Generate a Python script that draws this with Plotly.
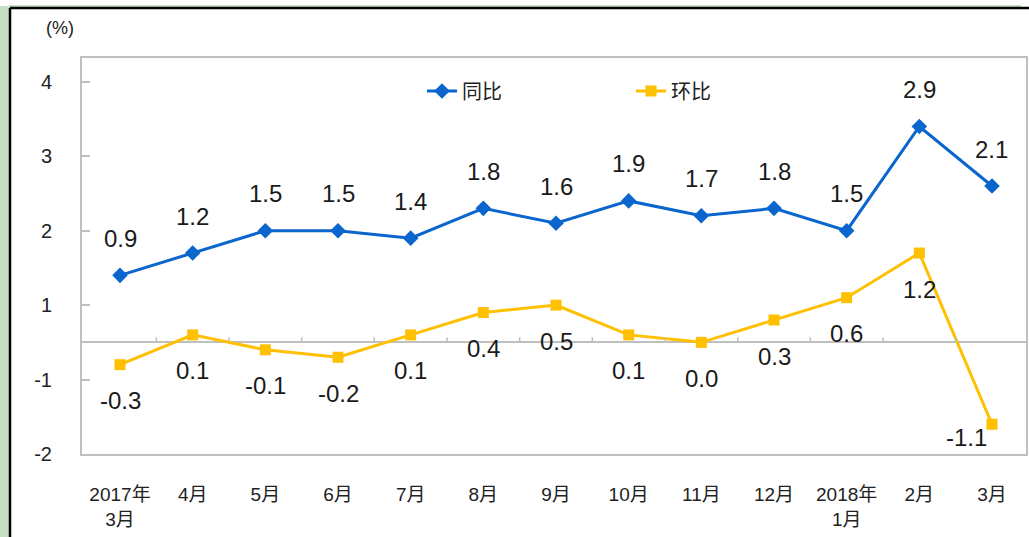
import plotly.graph_objects as go

categories = ["2017年<br>3月", "4月", "5月", "6月", "7月", "8月", "9月", "10月",
              "11月", "12月", "2018年<br>1月", "2月", "3月"]
yoy = [0.9, 1.2, 1.5, 1.5, 1.4, 1.8, 1.6, 1.9, 1.7, 1.8, 1.5, 2.9, 2.1]
mom = [-0.3, 0.1, -0.1, -0.2, 0.1, 0.4, 0.5, 0.1, 0.0, 0.3, 0.6, 1.2, -1.1]
ytick_vals = [3.5, 2.5, 1.5, 0.5, -0.5, -1.5]
ytick_text = ["4", "3", "2", "1", "-1", "-2"]

W, H = 1029, 537
L, T, R, B = 82, 58, 3, 83
pw, ph = W - L - R, H - T - B

BLUE = "#0A66CC"
YELLOW = "#FFC000"
GRID = "#BFBFBF"
FONT = "Liberation Sans, Arial, Noto Sans CJK SC"

xs = list(range(len(categories)))

fig = go.Figure()
fig.add_trace(go.Scatter(x=xs, y=yoy, name="同比", mode="lines+markers",
                         line=dict(color=BLUE, width=3),
                         marker=dict(symbol="diamond", size=12, color=BLUE)))
fig.add_trace(go.Scatter(x=xs, y=mom, name="环比", mode="lines+markers",
                         line=dict(color=YELLOW, width=3),
                         marker=dict(symbol="square", size=11, color=YELLOW)))

ann = []
for i, v in enumerate(yoy):
    ann.append(dict(x=i, y=v, xref="x", yref="y", text=f"{v:.1f}", showarrow=False,
                    yshift=37, font=dict(size=24, color="#1a1a1a", family=FONT)))
for i, v in enumerate(mom):
    xshift = -25 if i == len(mom) - 1 else 0
    yshift = -13 if i == len(mom) - 1 else -36
    ann.append(dict(x=i, y=v, xref="x", yref="y", text=f"{v:.1f}", showarrow=False,
                    yshift=yshift, xshift=xshift,
                    font=dict(size=24, color="#1a1a1a", family=FONT)))


def px_x(p):
    return (p - L) / pw


def px_y(p):
    return (H - B - p) / ph


ann.append(dict(x=px_x(60), y=px_y(28), xref="paper", yref="paper", xanchor="center",
                yanchor="middle", text="(%)", showarrow=False,
                font=dict(size=18, color="#222", family=FONT)))

shapes = []
for i in range(len(categories) - 1):
    shapes.append(dict(type="line", xref="x", yref="y", x0=i + 0.5, x1=i + 0.5,
                       y0=0, y1=0.07, line=dict(color=GRID, width=1.5)))
# outer frame
shapes.append(dict(type="rect", xref="paper", yref="paper", x0=px_x(0), x1=px_x(9),
                   y0=px_y(H), y1=px_y(6), fillcolor="#C5E1C5", line=dict(width=0), layer="below"))
shapes.append(dict(type="rect", xref="paper", yref="paper", x0=px_x(9), x1=px_x(1021),
                   y0=px_y(8), y1=px_y(5), fillcolor="#C5E1C5", line=dict(width=0), layer="below"))
shapes.append(dict(type="line", xref="paper", yref="paper", x0=px_x(10), x1=px_x(10),
                   y0=px_y(H), y1=px_y(8), line=dict(color="black", width=2.5)))
shapes.append(dict(type="line", xref="paper", yref="paper", x0=px_x(10), x1=px_x(W),
                   y0=px_y(8), y1=px_y(8), line=dict(color="black", width=2.5)))

fig.update_layout(
    width=W, height=H,
    margin=dict(l=L, r=R, t=T, b=B, autoexpand=False),
    paper_bgcolor="white", plot_bgcolor="white",
    font=dict(family=FONT, color="#222"),
    showlegend=True,
    legend=dict(orientation="h", x=px_x(422), y=px_y(91), xanchor="left", yanchor="middle",
                font=dict(size=20, family="Noto Sans CJK SC"), bgcolor="rgba(0,0,0,0)",
                entrywidth=164, entrywidthmode="pixels"),
    annotations=ann, shapes=shapes,
    xaxis=dict(range=[-0.523, len(categories) - 1 + 0.468], tickvals=xs, ticktext=categories,
               showgrid=False, zeroline=False, showline=True, linecolor=GRID, linewidth=2,
               mirror=True, ticks="", tickfont=dict(size=19, color="#222"),
               ticklabelstandoff=22, automargin=False),
    yaxis=dict(range=[-1.5, 3.82], tickvals=ytick_vals, ticktext=ytick_text,
               showgrid=False, zeroline=True, zerolinecolor=GRID, zerolinewidth=1.5,
               showline=True, linecolor=GRID, linewidth=2, mirror=True,
               ticks="inside", ticklen=8, tickcolor=GRID, tickwidth=1.5,
               tickfont=dict(size=20, color="#222"), ticklabelstandoff=24, automargin=False),
)
fig.write_html("out.html", config={"displayModeBar": False},
               post_script="document.body.style.margin='0';")
